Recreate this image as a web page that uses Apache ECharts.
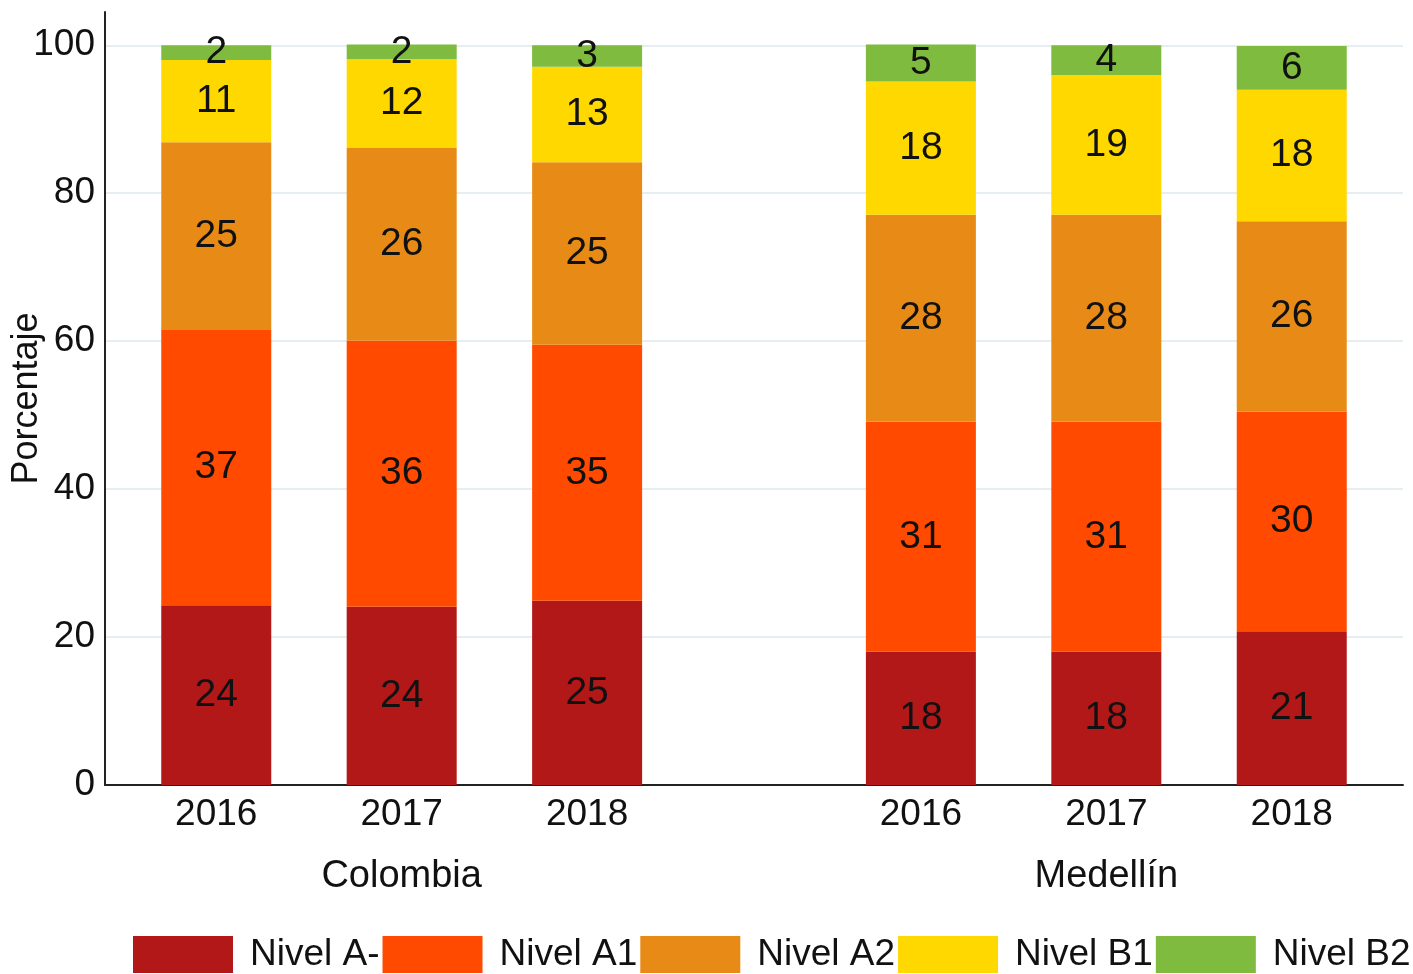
<!DOCTYPE html>
<html lang="es">
<head>
  <meta charset="utf-8"/>
  <title>Porcentaje por nivel de inglés</title>
  <script src="https://cdn.jsdelivr.net/npm/echarts@6/dist/echarts.min.js"></script>
  <style>
    html, body { margin: 0; padding: 0; background: #fff; }
    #main { width: 1413px; height: 974px; }
  </style>
</head>
<body>
<div id="main"></div>
<script type="text/javascript">
  // valores (porcentaje), orden: Colombia 2016-2018, Medellin 2016-2018
  var grupos = ['Colombia', 'Medellín'];
  var anios = ['2016', '2017', '2018'];
  var niveles = ['Nivel A-', 'Nivel A1', 'Nivel A2', 'Nivel B1', 'Nivel B2'];
  var nivelAmenos = [24.3, 24.1, 24.9, 18.0, 18.0, 20.8];
  var nivelA1 = [37.3, 36.0, 34.6, 31.1, 31.1, 29.7];
  var nivelA2 = [25.3, 26.0, 24.7, 28.0, 28.0, 25.7];
  var nivelB1 = [11.1, 12.0, 12.9, 18.0, 18.9, 17.8];
  var nivelB2 = [2.0, 2.0, 2.9, 5.0, 4.0, 5.9];
  var ticksY = [0, 20, 40, 60, 80, 100];

  var colores = ['#B31818', '#FF4A00', '#E88B16', '#FFD800', '#7FBB3E'];
  var fuente = 'Liberation Sans, Arial, sans-serif';

  // el eje x se reparte en ranuras finas para dejar el hueco entre grupos
  var nRanuras = 36, primera = 3, paso = 5, saltoGrupo = 19;
  var etqAnio = [], etqGrupo = [], posicion = [];
  for (var i = 0; i < nRanuras; i++) { etqAnio.push(''); etqGrupo.push(''); }
  grupos.forEach(function (g, gi) {
    anios.forEach(function (a, ai) {
      var r = primera + gi * saltoGrupo + ai * paso;
      etqAnio[r] = a;
      posicion.push(r);
    });
    etqGrupo[primera + gi * saltoGrupo + paso] = g;
  });

  function enRanuras(valores) {
    var d = [];
    for (var i = 0; i < nRanuras; i++) d.push('-');
    valores.forEach(function (v, k) { d[posicion[k]] = v; });
    return d;
  }

  var valores = [nivelAmenos, nivelA1, nivelA2, nivelB1, nivelB2];
  var series = niveles.map(function (n, k) {
    return {
      name: n,
      type: 'bar',
      stack: 'total',
      barWidth: 110,
      data: enRanuras(valores[k]),
      itemStyle: { color: colores[k] },
      label: {
        show: true,
        position: 'inside',
        fontSize: 39,
        fontFamily: fuente,
        color: '#111',
        formatter: function (p) { return Math.round(p.value); }
      }
    };
  });

  var myChart = echarts.init(document.getElementById('main'));
  myChart.setOption({
    animation: false,
    textStyle: { fontFamily: fuente },
    grid: { left: 105, right: 10, top: 12, bottom: 189, outerBoundsMode: 'none', containLabel: false },
    legend: {
      data: niveles,
      left: 133,
      right: 0,
      top: 936,
      padding: 0,
      icon: 'rect',
      itemWidth: 100,
      itemHeight: 37,
      itemGap: 3,
      textStyle: { fontSize: 37, color: '#111', fontFamily: fuente, padding: [0, 0, 0, 12] }
    },
    xAxis: [
      {
        type: 'category',
        data: etqAnio,
        boundaryGap: false,
        axisLine: { lineStyle: { color: '#222', width: 2 } },
        axisTick: { show: false },
        splitLine: { show: false },
        axisLabel: { interval: 0, fontSize: 37, color: '#111', margin: 11, fontFamily: fuente }
      },
      {
        type: 'category',
        data: etqGrupo,
        position: 'bottom',
        boundaryGap: false,
        axisLine: { show: false },
        axisTick: { show: false },
        splitLine: { show: false },
        axisLabel: { interval: 0, fontSize: 38, color: '#111', margin: 73, fontFamily: fuente }
      }
    ],
    yAxis: {
      type: 'value',
      min: 0,
      max: 104.5,
      name: 'Porcentaje',
      nameLocation: 'middle',
      nameGap: 60,
      nameMoveOverlap: false,
      nameTextStyle: { fontSize: 36, color: '#111', fontFamily: fuente },
      axisLine: { show: true, lineStyle: { color: '#222', width: 2 } },
      axisTick: { show: false, customValues: ticksY },
      axisLabel: { customValues: ticksY, fontSize: 37, color: '#111', margin: 10, fontFamily: fuente },
      splitLine: { show: true, lineStyle: { color: '#e6eef1', width: 2 } }
    },
    series: series
  });
</script>
</body>
</html>
